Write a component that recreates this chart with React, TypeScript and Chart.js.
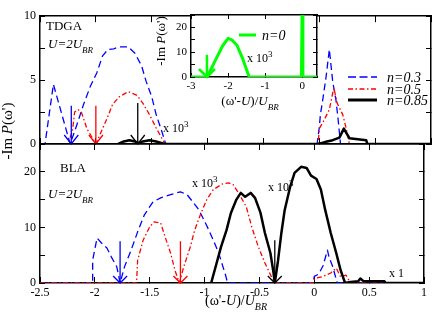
import React, { useEffect, useRef } from 'react';
import { Chart, registerables } from 'chart.js';
Chart.register(...registerables);

const FAM = "'Liberation Serif', 'DejaVu Serif', 'Times New Roman', serif";

// ---------- tick values / labels ----------
const xTickValues = [-2.5, -2, -1.5, -1, -0.5, 0, 0.5, 1];
const xTickLabels = ['-2.5', '-2', '-1.5', '-1', '-0.5', '0', '0.5', '1'];
const topYTickValues = [0, 2.5, 5, 7.5, 10];
const topYTickLabels = ['0', '', '5', '', '10'];
const botYTickValues = [0, 5, 10, 15, 20, 25];
const botYTickLabels = ['0', '', '10', '', '20', ''];
const insetXTickValues = [-3, -2, -1, 0];
const insetXTickLabels = ['-3', '-2', '-1', '0'];
const insetYTickValues = [0, 5, 10, 15, 20, 25];
const insetYTickLabels = ['0', '', '10', '', '20', ''];

// ---------- TDGA (top panel) ----------
const tdgaN03X = [-2.5, -2.455, -2.38, -2.23, -2.17, -2.11, -2.05, -1.99, -1.94, -1.89, -1.84, -1.79, -1.71, -1.65, -1.59, -1.55, -1.5, -1.46, -1.41, -1.375, -0.02, 0.0, 0.01, 0.03, 0.06, 0.09, 0.12, 0.15, 0.17, 0.19, 1.0];
const tdgaN03Y = [0, 0, 4.67, 0, 1.5, 3.1, 4.5, 5.6, 6.9, 7.4, 7.45, 7.6, 7.6, 7.1, 6.1, 4.9, 3.7, 2.3, 1.0, 0, 0, 1.3, 2.3, 3.4, 5.2, 7.4, 4.9, 3.4, 1.8, 0, 0];
const tdgaN05X = [-2.5, -2.25, -2.21, -2.19, -2.16, -2.13, -2.08, -2.0, -1.95, -1.9, -1.85, -1.79, -1.71, -1.63, -1.58, -1.52, -1.46, -1.4, -1.38, -0.01, 0.0, 0.045, 0.09, 0.13, 0.16, 0.21, 0.24, 0.27, 1.0];
const tdgaN05Y = [0, 0, 1.0, 2.5, 2.7, 2.5, 1.2, 0, 1.0, 2.0, 3.1, 3.7, 4.1, 3.8, 3.2, 2.3, 1.25, 0.3, 0, 0, 1.2, 1.9, 2.7, 4.4, 3.2, 2.3, 1.25, 0, 0];
const tdgaN085X = [-1.8, -1.75, -1.7, -1.65, -1.62, -1.58, -1.52, -1.46, -1.4, -1.37, -0.01, 0.05, 0.12, 0.18, 0.22, 0.27, 0.42, 0.43, 1.0];
const tdgaN085Y = [0, 0.2, 0.3, 0.2, 0.05, 0.2, 0.3, 0.2, 0.05, 0, 0, 0.15, 0.3, 0.5, 1.2, 0.45, 0.3, 0, 0];
const tdgaArrowX = [-2.22, -2.0, -1.625];
const tdgaArrowTop = [3.0, 3.0, 3.2];

// ---------- BLA (bottom panel) ----------
const blaN03X = [-2.5, -2.02, -2.02, -1.98, -1.94, -1.89, -1.85, -1.8, -1.77, -1.73, -1.67, -1.61, -1.55, -1.47, -1.4, -1.31, -1.22, -1.16, -1.1, -1.05, -0.98, -0.92, -0.87, -0.81, -0.79, -0.01, 0.0, 0.04, 0.08, 0.12, 0.135, 0.165, 0.21, 1.0];
const blaN03Y = [0, 0, 4.1, 8.1, 7.2, 6.3, 4.7, 2.9, 0, 2.9, 5.9, 9.2, 12.2, 14.6, 15.3, 15.9, 16.4, 15.9, 14.4, 13.1, 10.3, 7.7, 5.3, 1.5, 0, 0, 1.2, 1.6, 3.1, 5.9, 4.6, 3.1, 0, 0];
const blaN05X = [-2.5, -1.62, -1.61, -1.56, -1.5, -1.46, -1.4, -1.36, -1.31, -1.27, -1.23, -1.19, -1.13, -1.09, -1.04, -0.98, -0.92, -0.84, -0.78, -0.74, -0.69, -0.62, -0.57, -0.51, -0.45, -0.39, -0.36, -0.01, 0.0, 0.07, 0.15, 0.2, 0.24, 0.29, 0.33, 1.0];
const blaN05Y = [0, 0, 4.1, 7.7, 10.1, 11.0, 10.8, 8.3, 5.4, 2.3, 0, 2.9, 6.5, 9.5, 12.2, 15.0, 16.8, 17.8, 18.0, 17.7, 16.2, 13.7, 10.1, 6.5, 3.6, 1.1, 0, 0, 0.8, 1.1, 1.8, 2.7, 1.1, 1.4, 0, 0];
const blaN085X = [-0.94, -0.89, -0.85, -0.8, -0.76, -0.71, -0.67, -0.63, -0.58, -0.54, -0.49, -0.45, -0.4, -0.375, -0.36, -0.33, -0.3, -0.27, -0.22, -0.18, -0.12, -0.07, -0.03, 0.02, 0.06, 0.1, 0.15, 0.2, 0.24, 0.28, 0.33, 0.4, 0.42, 0.45, 0.55, 0.64, 0.65, 1.0];
const blaN085Y = [0, 3.6, 6.5, 9.5, 12.6, 15.0, 16.2, 15.5, 16.2, 15.3, 12.6, 9.0, 5.4, 2.3, 0, 4.1, 9.0, 13.1, 17.3, 19.8, 20.9, 20.7, 19.3, 18.7, 16.8, 13.1, 9.0, 5.4, 2.3, 0, 0.2, 0.3, 0.8, 0.3, 0.3, 0.3, 0, 0];
const blaArrowX = [-1.77, -1.22, -0.36];
const blaArrowTop = [7.5, 7.5, 7.7];

// ---------- inset (n=0) ----------
const n0X = [-3, -2.57, -2.45, -2.3, -2.15, -2.0, -1.9, -1.76, -1.6, -1.43, -0.02, 0, 0.02, 0.4];
const n0Y = [0, 0, 3.5, 8.0, 12.5, 15.6, 15.0, 12.8, 7.2, 0, 0, 30, 0, 0];
const n0ArrowX = [-2.57];
const n0ArrowTop = [9];

const seriesLabels = ['n=0.3', 'n=0.5', 'n=0.85'];
const insetLabel = 'n=0';

const BLUE = '#0000ff';
const RED = '#ff0000';
const GREEN = '#00ff00';
const BLACK = '#000000';
const DASH_BLUE = [7, 4];
const DASH_RED = [5, 2.5, 1.5, 2.5];

type Seg = { t: string; i?: boolean; sub?: boolean; sup?: boolean };
type TextItem = { x: number; y: number; segs: Seg[]; size: number; align?: string; rot?: number };

function drawRich(ctx: CanvasRenderingContext2D, t: TextItem) {
  ctx.save();
  ctx.translate(t.x, t.y);
  if (t.rot) ctx.rotate(t.rot);
  ctx.textBaseline = 'alphabetic';
  ctx.textAlign = 'left';
  const fonts = t.segs.map(s => `${s.i ? 'italic ' : ''}${(s.sub || s.sup) ? Math.round(t.size * 0.72) : t.size}px ${FAM}`);
  const widths = t.segs.map((s, k) => { ctx.font = fonts[k]; return ctx.measureText(s.t).width; });
  const W = widths.reduce((a, b) => a + b, 0);
  let cx = t.align === 'center' ? -W / 2 : t.align === 'right' ? -W : 0;
  ctx.fillStyle = '#000';
  t.segs.forEach((s, k) => {
    ctx.font = fonts[k];
    const dy = s.sub ? t.size * 0.35 : s.sup ? -t.size * 0.4 : 0;
    ctx.fillText(s.t, cx, dy);
    cx += widths[k];
  });
  ctx.restore();
}

type Arrow = { x: number; top: number; color: string; width: number; hw: number; hh: number };
type LegendItem = { x1: number; x2: number; y: number; color: string; width: number; dash: number[]; label: string; tx: number; size: number };

function makeAnnot(cfg: { arrows?: Arrow[]; texts?: TextItem[]; legend?: LegendItem[]; bg?: string }) {
  return {
    id: 'annot',
    beforeDraw(chart: any) {
      if (!cfg.bg) return;
      const a = chart.chartArea;
      const ctx = chart.ctx;
      ctx.save();
      ctx.fillStyle = cfg.bg;
      ctx.fillRect(a.left, a.top, a.right - a.left, a.bottom - a.top);
      ctx.restore();
    },
    afterDatasetsDraw(chart: any) {
      const ctx: CanvasRenderingContext2D = chart.ctx;
      const xs = chart.scales.x;
      const ys = chart.scales.y;
      ctx.save();
      (cfg.arrows || []).forEach(a => {
        const px = xs.getPixelForValue(a.x);
        const p0 = ys.getPixelForValue(0);
        const p1 = ys.getPixelForValue(a.top);
        ctx.strokeStyle = a.color;
        ctx.lineWidth = a.width;
        ctx.setLineDash([]);
        ctx.beginPath();
        ctx.moveTo(px, p1);
        ctx.lineTo(px, p0);
        ctx.moveTo(px - a.hw, p0 - a.hh);
        ctx.lineTo(px, p0);
        ctx.lineTo(px + a.hw, p0 - a.hh);
        ctx.stroke();
      });
      (cfg.legend || []).forEach(l => {
        ctx.strokeStyle = l.color;
        ctx.lineWidth = l.width;
        ctx.setLineDash(l.dash);
        ctx.beginPath();
        ctx.moveTo(l.x1, l.y);
        ctx.lineTo(l.x2, l.y);
        ctx.stroke();
        ctx.setLineDash([]);
        drawRich(ctx, { x: l.tx, y: l.y + l.size * 0.33, segs: [{ t: l.label, i: true }], size: l.size });
      });
      (cfg.texts || []).forEach(t => drawRich(ctx, t));
      ctx.restore();
    },
  };
}

function tickAxis(pos: string, min: number, max: number, values: number[], labels: string[], size: number, tl: number, pad: number, fontSize: number, showLabels: boolean) {
  const horiz = pos === 'top' || pos === 'bottom';
  return {
    type: 'linear',
    position: pos,
    min,
    max,
    afterBuildTicks: (s: any) => { s.ticks = values.map(v => ({ value: v })); },
    afterFit: (s: any) => { if (horiz) s.height = size; else s.width = size; },
    ticks: {
      display: showLabels,
      autoSkip: false,
      maxRotation: 0,
      minRotation: 0,
      padding: pad,
      color: '#000',
      font: { family: FAM, size: fontSize },
      callback: (v: number) => { const i = values.indexOf(v); return i >= 0 ? labels[i] : ''; },
    },
    grid: { display: true, drawOnChartArea: false, drawTicks: true, tickLength: tl, color: '#000', lineWidth: 1 },
    border: { display: true, color: '#000', width: 1.5 },
  };
}

function line(xs: number[], ys: number[], color: string, width: number, dash: number[]) {
  return {
    data: xs.map((x, i) => ({ x, y: ys[i] })),
    borderColor: color,
    borderWidth: width,
    borderDash: dash,
    borderJoinStyle: 'round',
    pointRadius: 0,
    fill: false,
    tension: 0,
  };
}

const baseOptions = {
  animation: false,
  responsive: false,
  devicePixelRatio: 1,
  events: [],
  layout: { padding: 0 },
};

const U2 = (x: number, y: number): TextItem => ({ x, y, size: 13, segs: [{ t: 'U=2U', i: true }, { t: 'BR', i: true, sub: true }] });
const X103 = (x: number, y: number): TextItem => ({ x, y, size: 12, segs: [{ t: 'x 10' }, { t: '3', sup: true }] });

function topConfig(): any {
  return {
    type: 'line',
    data: {
      datasets: [
        line(tdgaN085X, tdgaN085Y, BLACK, 2.5, []),
        line(tdgaN05X, tdgaN05Y, RED, 1.3, DASH_RED),
        line(tdgaN03X, tdgaN03Y, BLUE, 1.3, DASH_BLUE),
      ],
    },
    options: {
      ...baseOptions,
      plugins: { legend: { display: false }, tooltip: { enabled: false } },
      scales: {
        x: tickAxis('bottom', -2.5, 1, xTickValues, xTickLabels, 173, -6, 9, 12, false),
        x2: tickAxis('top', -2.5, 1, xTickValues, xTickLabels, 6, -6, 0, 12, false),
        y: tickAxis('left', 0, 10, topYTickValues, topYTickLabels, 40, -5, 9, 12, true),
        y2: tickAxis('right', 0, 10, topYTickValues, topYTickLabels, 5, -5, 0, 12, false),
      },
    },
    plugins: [makeAnnot({
      arrows: [
        { x: tdgaArrowX[0], top: tdgaArrowTop[0], color: BLUE, width: 1.3, hw: 7, hh: 9 },
        { x: tdgaArrowX[1], top: tdgaArrowTop[1], color: RED, width: 1.3, hw: 7, hh: 9 },
        { x: tdgaArrowX[2], top: tdgaArrowTop[2], color: BLACK, width: 1.3, hw: 7, hh: 9 },
      ],
      legend: [
        { x1: 348, x2: 377, y: 77, color: BLUE, width: 1.3, dash: [8, 3.5], label: seriesLabels[0], tx: 387, size: 14 },
        { x1: 348, x2: 377, y: 89, color: RED, width: 1.3, dash: DASH_RED, label: seriesLabels[1], tx: 387, size: 14 },
        { x1: 348, x2: 377, y: 100, color: BLACK, width: 3, dash: [], label: seriesLabels[2], tx: 387, size: 14 },
      ],
      texts: [
        { x: 46, y: 30, size: 13, segs: [{ t: 'TDGA' }] },
        U2(48, 48),
        X103(163, 132),
      ],
    })],
  };
}

function botConfig(): any {
  return {
    type: 'line',
    data: {
      datasets: [
        line(blaN085X, blaN085Y, BLACK, 2.5, []),
        line(blaN05X, blaN05Y, RED, 1.3, DASH_RED),
        line(blaN03X, blaN03Y, BLUE, 1.3, DASH_BLUE),
      ],
    },
    options: {
      ...baseOptions,
      plugins: { legend: { display: false }, tooltip: { enabled: false } },
      scales: {
        x: tickAxis('bottom', -2.5, 1, xTickValues, xTickLabels, 34, -6, 9, 12, true),
        x2: tickAxis('top', -2.5, 1, xTickValues, xTickLabels, 144, -6, 0, 12, false),
        y: tickAxis('left', 0, 25, botYTickValues, botYTickLabels, 40, -5, 9, 12, true),
        y2: tickAxis('right', 0, 25, botYTickValues, botYTickLabels, 5, -5, 0, 12, false),
      },
    },
    plugins: [makeAnnot({
      arrows: [
        { x: blaArrowX[0], top: blaArrowTop[0], color: BLUE, width: 1.3, hw: 7, hh: 7 },
        { x: blaArrowX[1], top: blaArrowTop[1], color: RED, width: 1.3, hw: 7, hh: 7 },
        { x: blaArrowX[2], top: blaArrowTop[2], color: BLACK, width: 1.3, hw: 7, hh: 7 },
      ],
      texts: [
        { x: 60, y: 172, size: 13, segs: [{ t: 'BLA' }] },
        U2(48, 198),
        X103(192, 187),
        X103(268, 191),
        { x: 389, y: 277, size: 12, segs: [{ t: 'x 1' }] },
        { x: 236, y: 305, size: 14, align: 'center', segs: [{ t: "(ω'-" }, { t: 'U', i: true }, { t: ')/' }, { t: 'U', i: true }, { t: 'BR', i: true, sub: true }] },
        { x: 12, y: 131, size: 15, align: 'center', rot: -Math.PI / 2, segs: [{ t: '-Im ' }, { t: 'P', i: true }, { t: "(ω')" }] },
      ],
    })],
  };
}

function insetConfig(): any {
  return {
    type: 'line',
    data: {
      datasets: [line(n0X, n0Y, GREEN, 3, [])],
    },
    options: {
      ...baseOptions,
      plugins: { legend: { display: false }, tooltip: { enabled: false } },
      scales: {
        x: tickAxis('bottom', -3, 0.4, insetXTickValues, insetXTickLabels, 240, -4, 6.5, 11, true),
        x2: tickAxis('top', -3, 0.4, insetXTickValues, insetXTickLabels, 15, -4, 0, 11, false),
        y: tickAxis('left', 0, 25, insetYTickValues, insetYTickLabels, 191, -4, 8, 11, true),
        y2: tickAxis('right', 0, 25, insetYTickValues, insetYTickLabels, 119, -4, 0, 11, false),
      },
    },
    plugins: [makeAnnot({
      bg: '#ffffff',
      arrows: [{ x: n0ArrowX[0], top: n0ArrowTop[0], color: GREEN, width: 2.5, hw: 8, hh: 8 }],
      legend: [{ x1: 239, x2: 256, y: 35, color: GREEN, width: 3, dash: [], label: insetLabel, tx: 262, size: 14 }],
      texts: [
        X103(247, 62),
        { x: 250, y: 105, size: 13, align: 'center', segs: [{ t: "(ω'-" }, { t: 'U', i: true }, { t: ')/' }, { t: 'U', i: true }, { t: 'BR', i: true, sub: true }] },
        { x: 165, y: 41, size: 13, align: 'center', rot: -Math.PI / 2, segs: [{ t: '-Im ' }, { t: 'P', i: true }, { t: "(ω')" }] },
      ],
    })],
  };
}

export default function App() {
  const topRef = useRef<HTMLCanvasElement>(null);
  const botRef = useRef<HTMLCanvasElement>(null);
  const insRef = useRef<HTMLCanvasElement>(null);
  useEffect(() => {
    document.body.style.margin = '0';
    const charts = [
      new Chart(topRef.current as HTMLCanvasElement, topConfig()),
      new Chart(botRef.current as HTMLCanvasElement, botConfig()),
      new Chart(insRef.current as HTMLCanvasElement, insetConfig()),
    ];
    return () => charts.forEach(c => c.destroy());
  }, []);
  const st: React.CSSProperties = { position: 'absolute', left: 0, top: 0, width: 436, height: 317 };
  return (
    <div style={{ position: 'relative', width: 436, height: 317, background: '#fff', overflow: 'hidden' }}>
      <canvas ref={topRef} width={436} height={317} style={st} />
      <canvas ref={botRef} width={436} height={317} style={st} />
      <canvas ref={insRef} width={436} height={317} style={st} />
    </div>
  );
}
